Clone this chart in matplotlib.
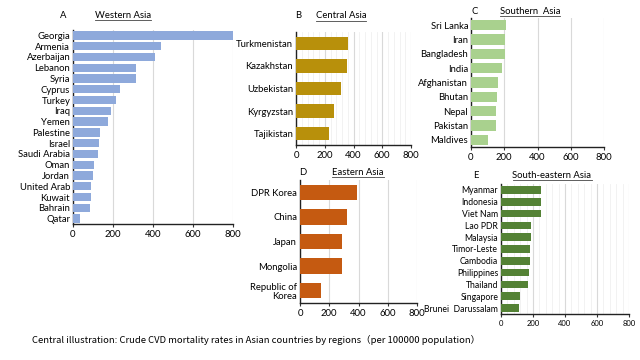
import matplotlib.pyplot as plt
from matplotlib.ticker import MultipleLocator
from matplotlib.lines import Line2D

plt.rcParams['font.family'] = ['Lato', 'Noto Sans CJK SC', 'DejaVu Sans']

# data (crude CVD mortality per 100000)
west_names = ["Georgia", "Armenia", "Azerbaijan", "Lebanon", "Syria", "Cyprus", "Turkey",
              "Iraq", "Yemen", "Palestine", "Israel", "Saudi Arabia", "Oman", "Jordan",
              "United Arab", "Kuwait", "Bahrain", "Qatar"]
west_vals = [808, 442, 408, 313, 313, 233, 213, 188, 173, 133, 132, 127, 107, 98, 92, 90, 85, 37]

central_names = ["Turkmenistan", "Kazakhstan", "Uzbekistan", "Kyrgyzstan", "Tajikistan"]
central_vals = [360, 352, 315, 267, 227]

south_names = ["Sri Lanka", "Iran", "Bangladesh", "India", "Afghanistan", "Bhutan",
               "Nepal", "Pakistan", "Maldives"]
south_vals = [212, 206, 202, 186, 162, 158, 152, 152, 104]

east_names = ["DPR Korea", "China", "Japan", "Mongolia", "Republic of\nKorea"]
east_vals = [393, 322, 290, 286, 144]

se_names = ["Myanmar", "Indonesia", "Viet Nam", "Lao PDR", "Malaysia", "Timor-Leste",
            "Cambodia", "Philippines", "Thailand", "Singapore", "Brunei  Darussalam"]
se_vals = [251, 249, 249, 187, 187, 182, 182, 178, 166, 118, 114]

W, H = 640, 360
fig = plt.figure(figsize=(6.4, 3.6), dpi=100)


def add_panel(box, names, vals, color, height, letter, title, lpos, tpos,
              minor=False, fs=6.8, xfs=6.8):
    l, r, t, b = box
    ax = fig.add_axes([l / W, 1 - b / H, (r - l) / W, (b - t) / H])
    y = list(range(len(names)))[::-1]
    ax.barh(y, vals, height=height, color=color, zorder=3)
    ax.set_xlim(0, 800)
    ax.set_ylim(-0.5, len(names) - 0.5)
    ax.set_yticks(y)
    ax.set_yticklabels(names, fontsize=fs, linespacing=1.0)
    ax.set_xticks([0, 200, 400, 600, 800])
    ax.tick_params(axis='x', labelsize=xfs, length=2, pad=2, color='#333333')
    ax.tick_params(axis='y', length=0, pad=2)
    ax.xaxis.grid(True, color='#d9d9d9', lw=0.8, zorder=0)
    if minor:
        ax.xaxis.set_minor_locator(MultipleLocator(40))
        ax.xaxis.grid(True, which='minor', color='#f0f0f0', lw=0.6, zorder=0)
        ax.tick_params(axis='x', which='minor', length=0)
    for s in ['top', 'right']:
        ax.spines[s].set_visible(False)
    for s in ['left', 'bottom']:
        ax.spines[s].set_color('#222222')
        ax.spines[s].set_linewidth(1.0)
    fig.text(lpos[0] / W, 1 - lpos[1] / H, letter, fontsize=6.8, ha='left', va='center')
    tt = fig.text(tpos[0] / W, 1 - tpos[1] / H, title, fontsize=6.8, ha='center', va='center')
    return ax, tt


titles = []
_, t = add_panel((73, 233, 30, 224), west_names, west_vals, '#8EA9DB', 0.78,
                 "A", "Western Asia", (60, 15), (123, 15))
titles.append(t)
_, t = add_panel((296, 411, 32, 145), central_names, central_vals, '#B8900B', 0.6,
                 "B", "Central Asia", (295, 16), (341, 16), minor=True)
titles.append(t)
_, t = add_panel((471, 604, 18, 147), south_names, south_vals, '#A9D18E', 0.7,
                 "C", "Southern  Asia", (471, 11), (530, 11))
titles.append(t)
_, t = add_panel((300, 417, 180, 303), east_names, east_vals, '#C55A11', 0.62,
                 "D", "Eastern Asia", (299, 172), (358, 172))
titles.append(t)
_, t = add_panel((501, 629, 184, 314), se_names, se_vals, '#548235', 0.65,
                 "E", "South-eastern Asia", (473, 175), (552, 175), minor=True, fs=6.2, xfs=5.5)
titles.append(t)

cap = fig.text(32 / W, 1 - 340 / H,
               "Central illustration: Crude CVD mortality rates in Asian countries by regions（per 100000 population）",
               fontsize=10, ha='left', va='center',
               family=['Liberation Sans Narrow', 'Noto Sans CJK SC', 'DejaVu Sans'])

# fit caption width to the reference, then underline the region titles
fig.canvas.draw()
r = fig.canvas.get_renderer()
w = cap.get_window_extent(renderer=r).width
cap.set_fontsize(10 * 448 / w)
for tt in titles:
    bb = tt.get_window_extent(renderer=r)
    x0, x1 = bb.x0 / W, bb.x1 / W
    yy = (bb.y0 - 0.5) / H
    fig.add_artist(Line2D([x0, x1], [yy, yy], transform=fig.transFigure,
                          color='#444444', lw=0.6))

fig.savefig("out.png", dpi=100, facecolor='white')
